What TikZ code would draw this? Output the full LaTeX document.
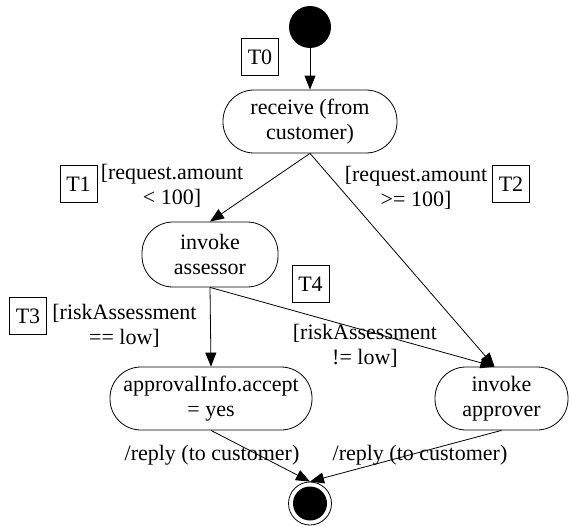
\documentclass[tikz,border=0pt]{standalone}
\usepackage{fontspec}
\setmainfont{Liberation Serif}
\usetikzlibrary{arrows.meta}
\begin{document}
\begin{tikzpicture}[x=1pt,y=-1pt,
  every node/.style={font=\fontsize{22}{25}\selectfont, inner sep=0pt},
  state/.style={draw, line width=0.8pt, rounded corners=31pt, align=center},
  tbox/.style={draw, line width=0.8pt, minimum width=37pt, minimum height=37pt},
  guard/.style={align=center},
  arr/.style={-{Triangle[length=14pt,width=11pt]}, line width=0.8pt},
  startdot/.style={circle, fill=black, minimum size=42pt},
  enddot/.style={circle, draw, line width=0.8pt, minimum size=43pt}
]
\useasboundingbox (0,0) rectangle (570,527);

% initial and final pseudo-states
\node[startdot] (start) at (310,27) {};
\node[enddot] (final) at (310,503.5) {};
\fill (final.center) circle (17pt);

% activity states
\node[state, minimum width=174pt, minimum height=63pt] (receive) at (310,121.5) {receive (from\\customer)};
\node[state, minimum width=136pt, minimum height=65pt] (assessor) at (210,254.5) {invoke\\assessor};
\node[state, minimum width=202pt, minimum height=63pt] (approval) at (211,398.5) {approvalInfo.accept\\= yes};
\node[state, minimum width=133pt, minimum height=63pt] (approver) at (501.5,398.5) {invoke\\approver};

% transition tags
\node[tbox] (t0) at (260,57) {T0};
\node[tbox] (t1) at (78.5,184) {T1};
\node[tbox] (t2) at (511,184) {T2};
\node[tbox] (t3) at (28,316) {T3};
\node[tbox] (t4) at (310.5,284) {T4};

% guards and actions
\node[guard] (g1) at (172,186) {[request.amount\\< 100]};
\node[guard] (g2) at (416,188) {[request.amount\\>= 100]};
\node[guard] (g3) at (124.5,326) {[riskAssessment\\== low]};
\node[guard] (g4) at (365,345.5) {[riskAssessment\\!= low]};
\node (r1) at (212,455) {/reply (to customer)};
\node (r2) at (420,455) {/reply (to customer)};

% transitions
\coordinate (appin) at ([xshift=-7pt]approver.north);
\draw[arr] (start) -- (receive);
\draw[arr] (receive.south) -- (assessor.north);
\draw[arr] (receive.south) -- (appin);
\draw[arr] (assessor.south) -- (approval.north);
\draw[arr] (assessor.south) -- (appin);
\draw[arr] (approval.south) -- (final.north);
\draw[arr] (approver.south) -- (final.north);
\end{tikzpicture}
\end{document}
